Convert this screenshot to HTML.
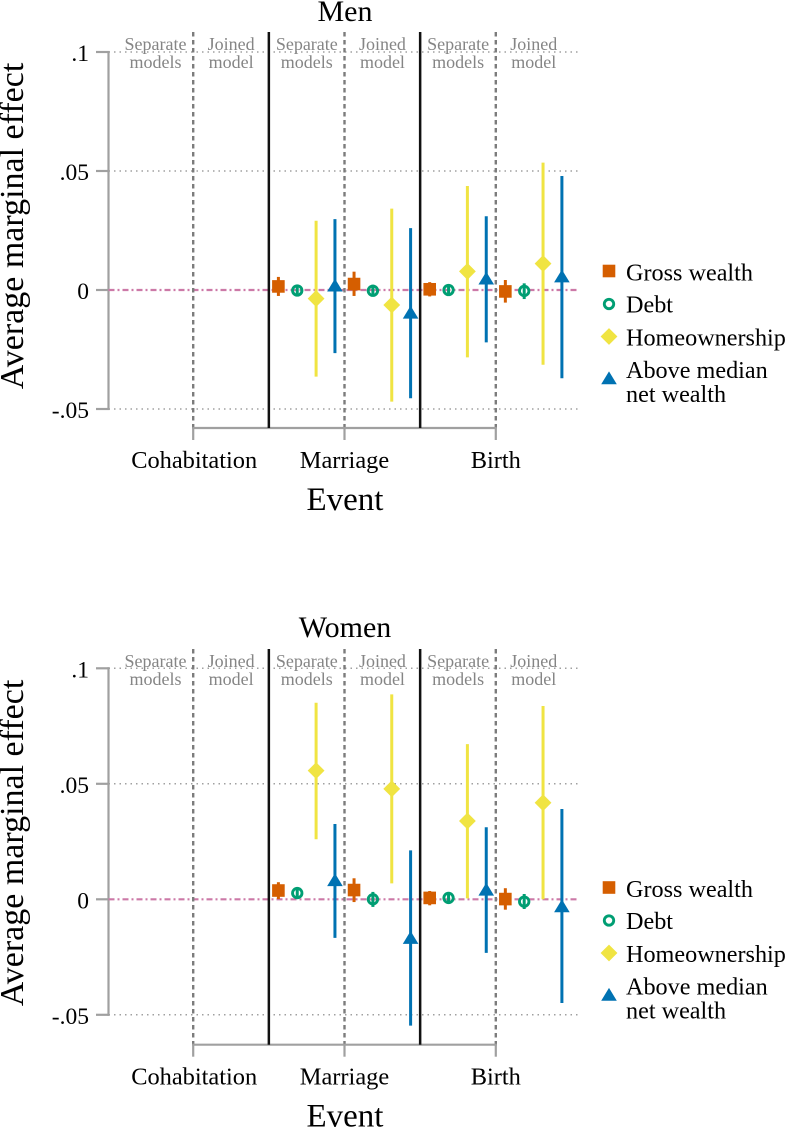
<!DOCTYPE html>
<html lang="en">
<head>
<meta charset="utf-8">
<title>Average marginal effect by event: men and women</title>
<style>
html,body{margin:0;padding:0;background:#fff;}
svg{display:block;font-family:"Liberation Serif","Times New Roman",serif;}
</style>
</head>
<body>
<svg id="chart" xmlns="http://www.w3.org/2000/svg" width="786" height="1128" viewBox="0 0 786 1128"></svg>
<script>
const eventLabels = ["Cohabitation", "Marriage", "Birth"];
const yTickValues = [0.1, 0.05, 0, -0.05];
const yTickLabels = [".1", ".05", "0", "-.05"];
const modelTopLabels = ["Separate", "Joined", "Separate", "Joined", "Separate", "Joined"];
const modelBottomLabels = ["models", "model", "models", "model", "models", "model"];
const seriesKeys = ["gross-wealth", "debt", "homeownership", "above-median"];
const legendFirstLines = ["Gross wealth", "Debt", "Homeownership", "Above median"];
const seriesColors = ["#d55e00", "#009e73", "#f0e442", "#0072b2"];

const menGross = [0.0015, 0.0025, 0.0003, -0.0006];
const menGrossLow = [-0.0025, -0.0025, -0.0027, -0.0053];
const menGrossHigh = [0.0055, 0.0077, 0.0033, 0.0042];
const menDebt = [-0.0002, -0.0003, 0, -0.0004];
const menDebtLow = [-0.0022, -0.0024, -0.002, -0.0038];
const menDebtHigh = [0.0018, 0.0022, 0.002, 0.0028];
const menHome = [-0.0036, -0.0063, 0.0078, 0.0111];
const menHomeLow = [-0.0364, -0.0469, -0.0283, -0.0314];
const menHomeHigh = [0.0291, 0.0342, 0.0437, 0.0535];
const menAbove = [0.002, -0.0094, 0.0049, 0.0058];
const menAboveLow = [-0.0265, -0.0455, -0.022, -0.0371];
const menAboveHigh = [0.0298, 0.026, 0.031, 0.0479];

const womenGross = [0.0038, 0.004, 0.0006, 0.0001];
const womenGrossLow = [0.0001, -0.0012, -0.0026, -0.0045];
const womenGrossHigh = [0.0074, 0.0091, 0.0036, 0.0048];
const womenDebt = [0.0027, 0, 0.0006, -0.001];
const womenDebtLow = [0.0007, -0.0033, -0.0017, -0.0042];
const womenDebtHigh = [0.0048, 0.0032, 0.0029, 0.0023];
const womenHome = [0.0557, 0.0478, 0.0339, 0.0418];
const womenHomeLow = [0.026, 0.0069, 0.0004, 0];
const womenHomeHigh = [0.0851, 0.0887, 0.0672, 0.0837];
const womenAbove = [0.0084, -0.0166, 0.0043, -0.0029];
const womenAboveLow = [-0.0167, -0.0547, -0.0232, -0.0449];
const womenAboveHigh = [0.0326, 0.0212, 0.0312, 0.0391];

const NS = "http://www.w3.org/2000/svg";
const root = document.getElementById("chart");
const AXIS_GRAY = "#a0a0a0";
const DASH_GRAY = "#7c7c7c";

function mk(tag, attrs, parent, name) {
  const el = document.createElementNS(NS, tag);
  for (const k in attrs) el.setAttribute(k, attrs[k]);
  
  
  parent.appendChild(el);
  return el;
}
function line(x1, y1, x2, y2, stroke, width, dash, parent, name) {
  const a = {x1: x1, y1: y1, x2: x2, y2: y2, stroke: stroke, "stroke-width": width};
  if (dash) a["stroke-dasharray"] = dash;
  return mk("line", a, parent, name);
}
function text(str, x, y, size, fill, anchor, parent, name, extra) {
  const a = {x: x, y: y, "font-size": size, fill: fill, "text-anchor": anchor};
  if (extra) for (const k in extra) a[k] = extra[k];
  const el = mk("text", a, parent, name);
  el.textContent = str;
  return el;
}
function marker(seriesIndex, cx, cy, parent, name) {
  const color = seriesColors[seriesIndex];
  if (seriesIndex === 0) {
    return mk("rect", {x: cx - 6.3, y: cy - 6.3, width: 12.6, height: 12.6, fill: color}, parent, name);
  }
  if (seriesIndex === 1) {
    return mk("circle", {cx: cx, cy: cy, r: 4.7, fill: "none", stroke: color, "stroke-width": 2.9}, parent, name);
  }
  if (seriesIndex === 2) {
    return mk("polygon", {points: [cx, cy - 8.4, cx + 8.4, cy, cx, cy + 8.4, cx - 8.4, cy].join(" "), fill: color}, parent, name);
  }
  return mk("polygon", {points: [cx, cy - 6.6, cx + 7.8, cy + 6.2, cx - 7.8, cy + 6.2].join(" "), fill: color}, parent, name);
}

function xEvent(i) { return 193.2 + 151.3 * i; }
function xModelLabel(i) { return 155.5 + 75.65 * i; }
function xMark(modelIndex, seriesIndex) { return 278.4 + 75.65 * modelIndex + 18.85 * seriesIndex; }

function drawPanel(p) {
  const y = function (v) { return p.zeroY - v * p.pxPerUnit; };
  const g = mk("g", {}, root, p.key + "-panel");
  const xLeft = 108.5, xRight = 578;

  text(p.title, 345, p.titleY, 30, "#000", "middle", g, p.key + "-title");

  yTickValues.forEach(function (v, i) {
    if (v !== 0) line(xLeft, y(v), xRight, y(v), "#a0a0a0", 1.5, "1.5 4", g, p.key + "-gridline");
    line(96, y(v), xLeft + 1, y(v), AXIS_GRAY, 2.2, null, g, p.key + "-y-tick");
    text(yTickLabels[i], 89, y(v) + 9, 23.5, "#000", "end", g, p.key + "-y-tick-label");
  });
  line(xLeft, y(0.1) - 1, xLeft, y(-0.05) + 1, AXIS_GRAY, 2.2, null, g, p.key + "-y-axis");
  line(xLeft, y(0), xRight, y(0), "#cc79a7", 2.2, "6 3 2 3", g, p.key + "-zero-line");

  const axisY = p.axisY;
  eventLabels.forEach(function (label, i) {
    const x = xEvent(i);
    line(x, p.topY, x, axisY, DASH_GRAY, 2.4, "4.5 3.5", g, p.key + "-model-divider");
    line(x, axisY, x, axisY + 12, AXIS_GRAY, 2.2, null, g, p.key + "-x-tick");
    text(label, x + (i === 0 ? 1 : 0), axisY + 40, 24.4, "#000", "middle", g, p.key + "-x-tick-label");
  });
  line(xEvent(0) - 1, axisY, xEvent(2) + 1, axisY, AXIS_GRAY, 2.2, null, g, p.key + "-x-axis");
  [0, 1].forEach(function (i) {
    const x = (xEvent(i) + xEvent(i + 1)) / 2;
    line(x, p.topY, x, axisY, "#111", 2.5, null, g, p.key + "-event-divider");
  });

  modelTopLabels.forEach(function (label, i) {
    const x = xModelLabel(i);
    text(label, x, p.topY + 18, 18, "#858585", "middle", g, p.key + "-model-label");
    text(modelBottomLabels[i], x, p.topY + 36, 18, "#858585", "middle", g, p.key + "-model-label");
  });

  text("Event", 345, axisY + 82, 33, "#000", "middle", g, p.key + "-x-axis-title");
  const cy = p.titleCenterY;
  text("Average marginal effect", 0, 0, 34, "#000", "middle", g, p.key + "-y-axis-title", {transform: "translate(23 " + cy + ") rotate(-90)"});

  p.series.forEach(function (s, si) {
    s.est.forEach(function (v, mi) {
      const x = xMark(mi, si);
      line(x, y(s.high[mi]), x, y(s.low[mi]), seriesColors[si], 3, null, g, p.key + "-" + seriesKeys[si] + "-ci");
      marker(si, x, y(v), g, p.key + "-" + seriesKeys[si] + "-point");
    });
  });

  const lx = 609, ty = p.legendY;
  const lg = mk("g", {}, g, p.key + "-legend");
  const rowsMarker = [0, 33, 65.5, 107];
  const rowsText = [9.5, 41.5, 74.5, 107];
  legendFirstLines.forEach(function (label, i) {
    marker(i, lx, ty + rowsMarker[i], lg, p.key + "-legend-marker-" + seriesKeys[i]);
    text(label, 626, ty + rowsText[i], 24.2, "#000", "start", lg, p.key + "-legend-label-" + seriesKeys[i]);
  });
  text("net wealth", 626, ty + 131, 24.2, "#000", "start", lg, p.key + "-legend-label-net-wealth");
}

drawPanel({
  key: "men", title: "Men", titleY: 21, zeroY: 290, pxPerUnit: 2380, topY: 32, axisY: 428,
  titleCenterY: 226, legendY: 271,
  series: [
    {est: menGross, low: menGrossLow, high: menGrossHigh},
    {est: menDebt, low: menDebtLow, high: menDebtHigh},
    {est: menHome, low: menHomeLow, high: menHomeHigh},
    {est: menAbove, low: menAboveLow, high: menAboveHigh}
  ]
});
drawPanel({
  key: "women", title: "Women", titleY: 637, zeroY: 899.3, pxPerUnit: 2310, topY: 649, axisY: 1044.7,
  titleCenterY: 843, legendY: 887.5,
  series: [
    {est: womenGross, low: womenGrossLow, high: womenGrossHigh},
    {est: womenDebt, low: womenDebtLow, high: womenDebtHigh},
    {est: womenHome, low: womenHomeLow, high: womenHomeHigh},
    {est: womenAbove, low: womenAboveLow, high: womenAboveHigh}
  ]
});
</script>
</body>
</html>
